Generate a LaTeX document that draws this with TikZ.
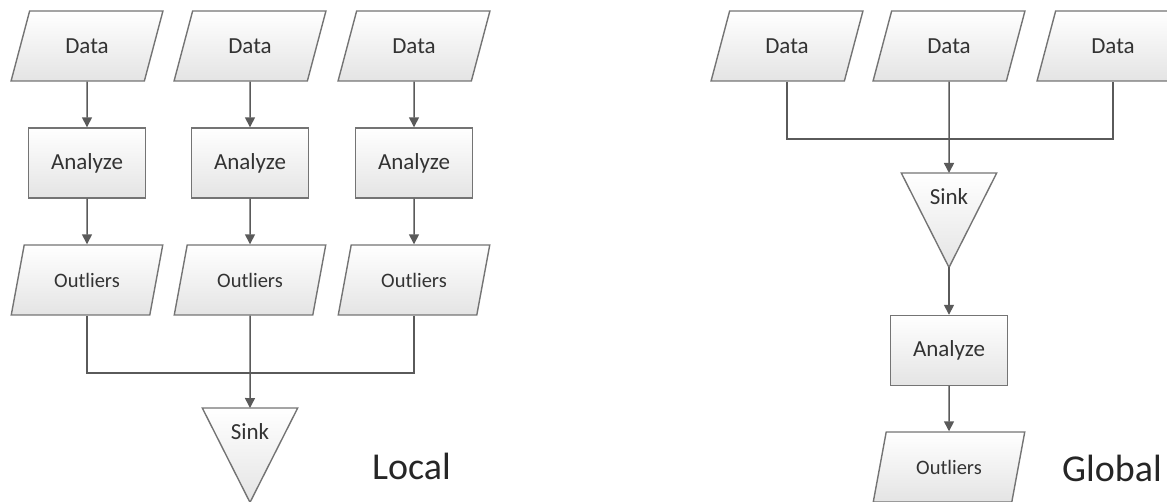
\documentclass[tikz,border=0pt]{standalone}
\usepackage{fontspec}
\setmainfont{Carlito}
\usetikzlibrary{shapes.geometric,arrows.meta,backgrounds}
\definecolor{edge}{HTML}{747474}
\definecolor{lnk}{HTML}{5A5A5A}
\definecolor{txt}{HTML}{333333}
\definecolor{fillbot}{HTML}{E4E4E4}
\begin{document}
\begin{tikzpicture}[x=1pt,y=-1pt,
 shapebase/.style={draw=edge, line width=1.4pt, top color=white, bottom color=fillbot, text=txt, inner sep=0pt},
 para/.style={shapebase, trapezium, trapezium left angle=64.8, trapezium right angle=115.2, trapezium stretches=true, minimum width=152pt, minimum height=70pt, font=\fontsize{23}{25}\selectfont},
 outl/.style={para, font=\fontsize{20.5}{22}\selectfont},
 procbox/.style={shapebase, rectangle, minimum width=117pt, minimum height=70pt, font=\fontsize{23}{25}\selectfont},
 sinkbox/.style={rectangle, minimum width=95pt, minimum height=94pt, inner sep=0pt, anchor=north},
 sinktri/.style={draw=edge, line width=1.4pt, top color=white, bottom color=fillbot, line join=miter},
 lbl/.style={text=txt, font=\fontsize{23}{25}\selectfont, inner sep=0pt},
 big/.style={text=black!85, font=\fontsize{38}{40}\selectfont, inner sep=0pt, anchor=west},
 conn/.style={draw=lnk, line width=1.5pt},
 arr/.style={conn, -{Triangle[length=10pt,width=10pt]}}
]
\useasboundingbox (0,0) rectangle (1167,502);
% ---------- Local ----------
\node[para] (d1) at (87,46) {Data};
\node[para] (d2) at (250,46) {Data};
\node[para] (d3) at (414,46) {Data};
\node[procbox] (a1) at (87,163) {Analyze};
\node[procbox] (a2) at (250,163) {Analyze};
\node[procbox] (a3) at (414,163) {Analyze};
\node[outl] (o1) at (87,280) {Outliers};
\node[outl] (o2) at (250,280) {Outliers};
\node[outl] (o3) at (414,280) {Outliers};
\node[sinkbox] (s1) at (250,408) {};
\node[lbl] (s1t) at (250,432) {Sink};
\begin{scope}[on background layer]
\path[sinktri] (s1.north west) -- (s1.north east) -- (s1.south) -- cycle;
\end{scope}
\coordinate (jl) at (250,373);
\draw[arr] (d1.south) -- (a1.north);
\draw[arr] (d2.south) -- (a2.north);
\draw[arr] (d3.south) -- (a3.north);
\draw[arr] (a1.south) -- (o1.north);
\draw[arr] (a2.south) -- (o2.north);
\draw[arr] (a3.south) -- (o3.north);
\draw[conn] (o1.south) |- (jl) -| (o3.south);
\draw[arr] (o2.south) -- (s1.north);
\node[big] (loc) at (372,466) {Local};
% ---------- Global ----------
\node[para] (d4) at (787,46) {Data};
\node[para] (d5) at (949,46) {Data};
\node[para] (d6) at (1113,46) {Data};
\node[sinkbox] (s2) at (949,173) {};
\node[lbl] (s2t) at (949,197) {Sink};
\begin{scope}[on background layer]
\path[sinktri] (s2.north west) -- (s2.north east) -- (s2.south) -- cycle;
\end{scope}
\node[procbox] (a4) at (949,350.5) {Analyze};
\node[outl] (o4) at (949,467) {Outliers};
\coordinate (jr) at (949,139);
\draw[conn] (d4.south) |- (jr) -| (d6.south);
\draw[arr] (d5.south) -- (s2.north);
\draw[arr] (s2.south) -- (a4.north);
\draw[arr] (a4.south) -- (o4.north);
\node[big] (glo) at (1062,468) {Global};
\end{tikzpicture}
\end{document}
